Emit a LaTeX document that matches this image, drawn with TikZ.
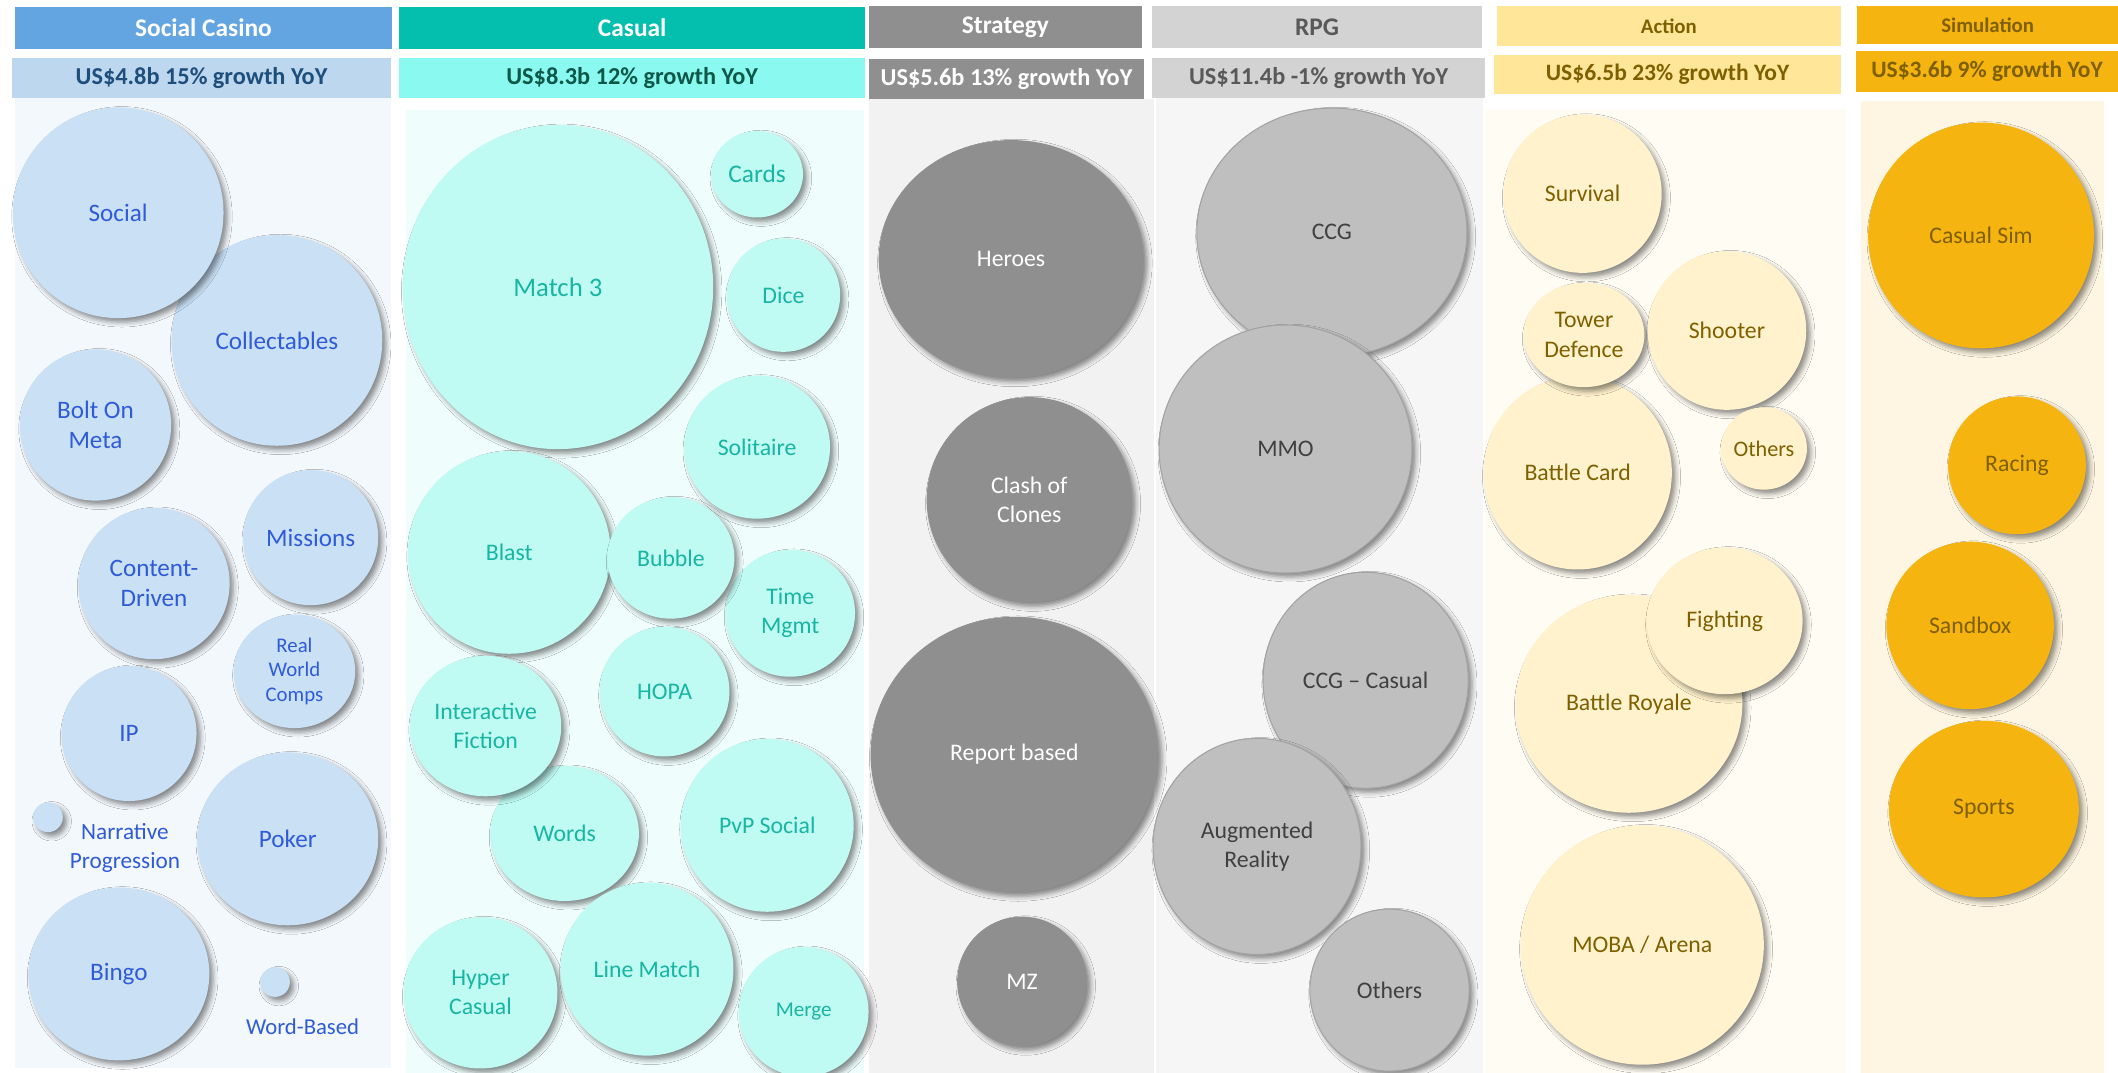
\documentclass[tikz,border=0pt]{standalone}
\usepackage{fontspec}
\setmainfont{Carlito}
\usetikzlibrary{shapes.geometric,shadows.blur}
\definecolor{schead}{HTML}{63A5E1}
\definecolor{scsub}{HTML}{BDD7EE}
\definecolor{scsubtext}{HTML}{1E4E7B}
\definecolor{scbg}{HTML}{F3F8FC}
\definecolor{scfill}{HTML}{C9E0F5}
\definecolor{sctext}{HTML}{2F5BD9}
\definecolor{cahead}{HTML}{05BFAE}
\definecolor{casub}{HTML}{8AF9EF}
\definecolor{casubtext}{HTML}{0D5848}
\definecolor{cabg}{HTML}{EFFDFC}
\definecolor{cafill}{HTML}{C0FBF3}
\definecolor{catext}{HTML}{17B5A2}
\definecolor{sthead}{HTML}{8F8F8F}
\definecolor{stbg}{HTML}{F2F2F2}
\definecolor{rphead}{HTML}{D3D3D3}
\definecolor{rptext}{HTML}{595959}
\definecolor{rpbg}{HTML}{F6F6F6}
\definecolor{rpfill}{HTML}{BFBFBF}
\definecolor{rpline}{HTML}{A3A3A3}
\definecolor{rpctext}{HTML}{404040}
\definecolor{achead}{HTML}{FFE699}
\definecolor{actext}{HTML}{7F6000}
\definecolor{acbg}{HTML}{FFFCF3}
\definecolor{acfill}{HTML}{FFF2CC}
\definecolor{sihead}{HTML}{F5B40F}
\definecolor{sibg}{HTML}{FEF6E2}
\begin{document}
\begin{tikzpicture}[x=0.5pt,y=-0.5pt,
  hdr/.style 2 args={rectangle, inner sep=0pt, minimum width=#1pt, minimum height=#2pt,
    font=\bfseries\fontsize{9.4}{11}\selectfont},
  smallhdr/.style={font=\bfseries\fontsize{7.7}{9}\selectfont},
  smallsub/.style={font=\bfseries\fontsize{8.7}{10}\selectfont},
  subfont/.style={font=\bfseries\fontsize{9.0}{11}\selectfont},
  bub/.style={ellipse, inner sep=0pt, align=center,
    blur shadow={shadow xshift=1.4pt, shadow yshift=-1.5pt, shadow blur radius=1.8pt, shadow opacity=45},
    font=\fontsize{8.8}{10.8}\selectfont},
  rad/.style={minimum width=#1pt, minimum height=#1pt},
  radxy/.style 2 args={minimum width=#1pt, minimum height=#2pt},
  scb/.style={bub, fill=scfill, text=sctext, font=\fontsize{9.3}{11.3}\selectfont},
  cab/.style={bub, fill=cafill, text=catext},
  stb/.style={bub, fill=sthead, text=white},
  rpb/.style={bub, fill=rpfill, draw=rpline, line width=0.4pt, text=rpctext},
  acb/.style={bub, fill=acfill, text=actext},
  sib/.style={bub, fill=sihead, text=actext},
  lbl/.style={inner sep=0pt, align=center}
]
\useasboundingbox (0,0) rectangle (1568,794);
\fill[white] (0,0) rectangle (1568,794);

% ---------- column backgrounds ----------
\fill[scbg] (11,72.5) rectangle (289.5,791);
\fill[cabg] (300.6,81.4) rectangle (639.6,794);
\fill[stbg] (643,73) rectangle (854.5,794);
\fill[rpbg] (855.5,72.6) rectangle (1098,794);
\fill[acbg] (1099,80.8) rectangle (1366.7,794);
\fill[sibg] (1378,75) rectangle (1557.6,794);

% ---------- headers ----------
\node[hdr={139.7}{15.75}, fill=schead, text=white] (hsc) at (150.6,20.7) {Social Casino};
\node[hdr={172.7}{15.75}, fill=cahead, text=white] (hca) at (468,20.7) {Casual};
\node[hdr={101.2}{15.7}, fill=sthead, text=white] (hst) at (744.3,20.1) {Strategy};
\node[hdr={122}{15.6}, fill=rphead, text=rptext] (hrp) at (975,20) {RPG};
\node[hdr={127.5}{14.7}, fill=achead, text=actext, smallhdr] (hac) at (1235.5,19.1) {Action};
\node[hdr={96.5}{14.1}, fill=sihead, text=actext, smallhdr] (hsi) at (1471.5,18.5) {Simulation};

\node[hdr={140.2}{14.55}, fill=scsub, text=scsubtext, subfont] (ssc) at (149.2,57.8) {US\$4.8b 15\% growth YoY};
\node[hdr={172.7}{14.65}, fill=casub, text=casubtext, subfont] (sca) at (468,57.7) {US\$8.3b 12\% growth YoY};
\node[hdr={101.9}{14.8}, fill=sthead, text=white, subfont] (sst) at (745.1,58.5) {US\$5.6b 13\% growth YoY};
\node[hdr={123.2}{14.8}, fill=rphead, text=rptext, subfont] (srp) at (976.2,57.8) {US\$11.4b -1\% growth YoY};
\node[hdr={128.5}{14.55}, fill=achead, text=actext, smallsub] (sac) at (1234.5,55.3) {US\$6.5b 23\% growth YoY};
\node[hdr={97}{15}, fill=sihead, text=actext, smallsub] (ssi) at (1471,53) {US\$3.6b 9\% growth YoY};

% ---------- Social Casino ----------
\node[scb, rad=78] (coll) at (205,252) {Collectables};
\node[scb, rad=78] (social) at (87.5,157.5) {Social};
\node[scb, rad=56] (bolt) at (70.7,314.6) {Bolt On\\Meta};
\node[scb, rad=56] (cont) at (114,432) {Content-\\Driven};
\node[scb, rad=50] (miss) at (230,398) {Missions};
\node[scb, radxy={45}{42}, font=\fontsize{7.7}{9.2}\selectfont] (rwc) at (218,497) {Real\\World\\Comps};
\node[scb, rad=50] (ip) at (95.5,543) {IP};
\node[scb, radxy={67}{64}] (poker) at (213,621) {Poker};
\node[scb, radxy={67}{64}] (bingo) at (88,721) {Bingo};
\node[scb, rad=11] (narrc) at (35.5,605) {};
\node[lbl, text=sctext, font=\fontsize{8.6}{10.8}\selectfont] (narr) at (92.5,627.5) {Narrative\\Progression};
\node[scb, rad=11] (wbc) at (203.6,727) {};
\node[lbl, text=sctext, font=\fontsize{8.4}{10}\selectfont] (wb) at (224,760) {Word-Based};

% ---------- Casual ----------
\node[cab, radxy={115}{120}, font=\fontsize{9.9}{12}\selectfont] (m3) at (413,212.5) {Match 3};
\node[cab, radxy={34}{32}, font=\fontsize{9.4}{11}\selectfont] (cards) at (560.5,129) {Cards};
\node[cab, rad=42] (dice) at (580,218.5) {Dice};
\node[cab, radxy={54}{53}] (sol) at (560.5,331) {Solitaire};
\node[cab, radxy={48}{47}] (time) at (585,454) {Time\\Mgmt};
\node[cab, rad=75] (blast) at (377,409) {Blast};
\node[cab, radxy={47}{45}] (bubble) at (496.7,413) {Bubble};
\node[cab, rad=48] (hopa) at (492,512) {HOPA};
\node[cab, radxy={55}{50}] (words) at (418,617) {Words};
\node[cab, radxy={56}{52}] (ifc) at (359.5,537.5) {Interactive\\Fiction};
\node[cab, rad=64] (pvp) at (568,611) {PvP Social};
\node[cab, radxy={57}{56}] (hyper) at (355.7,735) {Hyper\\Casual};
\node[cab, rad=64] (lm) at (479,717.5) {Line Match};
\node[cab, rad=48, font=\fontsize{7.8}{9.5}\selectfont] (merge) at (595,749) {Merge};

% ---------- Strategy ----------
\node[stb, radxy={98}{88}] (heroes) at (748.5,191.7) {Heroes};
\node[stb, rad=76] (clash) at (762,370) {Clash of\\Clones};
\node[stb, radxy={106.5}{102}] (report) at (751,558.6) {Report based};
\node[stb, rad=48] (mz) at (756.6,726.6) {MZ};

% ---------- RPG ----------
\node[rpb, radxy={100}{92}] (ccg) at (986,172) {CCG};
\node[rpb, radxy={93.6}{91.8}] (mmo) at (951.7,332.4) {MMO};
\node[rpb, radxy={76}{80}] (ccgc) at (1011,503.6) {CCG -- Casual};
\node[rpb, radxy={77}{80}] (ar) at (930.6,626.6) {Augmented\\Reality};
\node[rpb, radxy={59}{60}] (rpoth) at (1028.7,733) {Others};

% ---------- Action ----------
\node[acb, rad=58.6] (surv) at (1171.6,143.4) {Survival};
\node[acb, radxy={69.7}{71.6}] (bcard) at (1168,350) {Battle Card};
\node[acb, radxy={44.8}{38.6}] (td) at (1172.6,248) {Tower\\Defence};
\node[acb, rad=58.7] (shoot) at (1278.5,244.7) {Shooter};
\node[acb, rad=30.5, font=\fontsize{8.2}{10}\selectfont] (acoth) at (1305.9,332) {Others};
\node[acb, radxy={84}{80.7}] (broy) at (1205.9,521) {Battle Royale};
\node[acb, radxy={57.7}{54.3}] (fight) at (1276.8,459.6) {Fighting};
\node[acb, radxy={90}{88.6}] (moba) at (1215.8,699.6) {MOBA / Arena};

% ---------- Simulation ----------
\node[sib, rad=83.6] (csim) at (1466.6,174.3) {Casual Sim};
\node[sib, rad=51] (racing) at (1493.2,344.5) {Racing};
\node[sib, rad=62] (sandbox) at (1458.5,463) {Sandbox};
\node[sib, radxy={70.3}{65.4}] (sports) at (1468.7,599) {Sports};
\end{tikzpicture}
\end{document}
